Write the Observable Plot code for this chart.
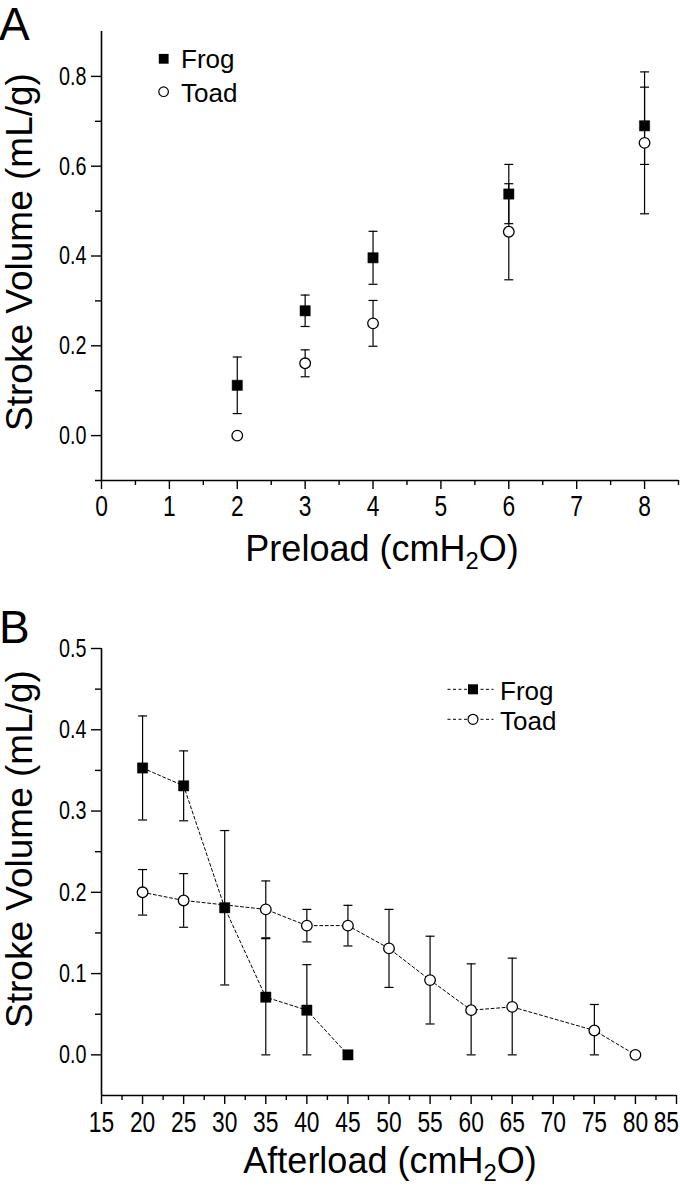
<!DOCTYPE html>
<html>
<head>
<meta charset="utf-8">
<script src="https://cdn.jsdelivr.net/npm/d3@7"></script>
<script src="https://cdn.jsdelivr.net/npm/@observablehq/plot@0.6"></script>
<style>
  body { margin: 0; background: #fff; }
  #chart { width: 680px; }
  #chart svg { display: block; }
</style>
</head>
<body>
<div id="chart"></div>
<script>
// ---------- Panel A: Preload ----------
const preload = [2, 3, 4, 6, 8];
const frogPreSV = [0.112, 0.278, 0.396, 0.538, 0.690];
const frogPreErr = [0.063, 0.035, 0.059, 0.066, 0.086];
const toadPreSV = [0.000, 0.161, 0.250, 0.454, 0.652];
const toadPreErr = [0.000, 0.030, 0.051, 0.107, 0.158];
const xTicksA = [0, 1, 2, 3, 4, 5, 6, 7, 8];
const xMinorA = [0.5, 1.5, 2.5, 3.5, 4.5, 5.5, 6.5, 7.5, 8.5];
const yTicksA = [0.0, 0.2, 0.4, 0.6, 0.8];
const yMinorA = [0.1, 0.3, 0.5, 0.7];

// ---------- Panel B: Afterload ----------
const frogAfterload = [20, 25, 30, 35, 40, 45];
const frogAfterSV = [0.353, 0.331, 0.181, 0.071, 0.055, 0.000];
const frogAfterErr = [0.064, 0.043, 0.095, 0.072, 0.056, 0.000];
const toadAfterload = [20, 25, 35, 40, 45, 50, 55, 60, 65, 75, 80];
const toadAfterSV = [0.200, 0.190, 0.179, 0.159, 0.159, 0.131, 0.092, 0.055, 0.059, 0.030, 0.000];
const toadAfterErr = [0.028, 0.033, 0.035, 0.020, 0.025, 0.048, 0.054, 0.057, 0.060, 0.032, 0.000];
const xTicksB = [15, 20, 25, 30, 35, 40, 45, 50, 55, 60, 65, 70, 75, 80, 85];
const xMinorB = [17.5, 22.5, 27.5, 32.5, 37.5, 42.5, 47.5, 52.5, 57.5, 62.5, 67.5, 72.5, 77.5, 82.5];
const yTicksB = [0.0, 0.1, 0.2, 0.3, 0.4, 0.5];
const yMinorB = [0.05, 0.15, 0.25, 0.35, 0.45];

const seriesNames = ["Frog", "Toad"];
const yTitle = "Stroke Volume (mL/g)";

// ---------- helpers ----------
const fontFamily = "'Liberation Sans', Arial, Helvetica, sans-serif";
function rows(xs, ys, errs) {
  return xs.map((x, i) => ({
    x, y: ys[i], err: errs[i],
    lo: Math.max(0, ys[i] - errs[i]), hi: ys[i] + errs[i]
  }));
}
const capSymbol = { draw(ctx) { ctx.moveTo(-4.5, 0); ctx.lineTo(4.5, 0); } };
function errorMarks(data) {
  const d = data.filter(r => r.err > 0);
  return [
    Plot.ruleX(d, { x: "x", y1: "lo", y2: "hi", stroke: "black", strokeWidth: 1.2 }),
    Plot.dot(d, { x: "x", y: "hi", symbol: capSymbol, stroke: "black", strokeWidth: 1.2, fill: "none" }),
    Plot.dot(d, { x: "x", y: "lo", symbol: capSymbol, stroke: "black", strokeWidth: 1.2, fill: "none" })
  ];
}
const frogDot = (d) => Plot.dot(d, { x: "x", y: "y", symbol: "square", r: 5.8, fill: "black", stroke: "black", strokeWidth: 0.5 });
const toadDot = (d) => Plot.dot(d, { x: "x", y: "y", symbol: "circle", r: 5.3, fill: "white", stroke: "black", strokeWidth: 1.3 });
const noLabel = () => "";

// narrow (condensed) look of the original tick labels
function condenseTicks(svg, k) {
  d3.select(svg).selectAll('g[aria-label$="tick label"] text').each(function () {
    const t = this.getAttribute("transform") || "";
    this.setAttribute("transform", `${t} scale(${k},1)`);
  });
}
// keep tick labels inside the page width (as in the original, where "85" sits flush right)
function keepInside(svg, maxX) {
  d3.select(svg).selectAll('g[aria-label$="tick label"] text').each(function () {
    const r = this.getBoundingClientRect();
    const s = svg.getBoundingClientRect();
    const over = (r.right - s.left) - maxX;
    if (over > 0) {
      const t = this.getAttribute("transform") || "";
      this.setAttribute("transform", `translate(${-over},0) ${t}`);
    }
  });
}

function addText(svg, txt, x, y, size, opts = {}) {
  const t = d3.select(svg).append("text")
    .attr("x", x).attr("y", y)
    .attr("font-size", size)
    .attr("font-family", fontFamily)
    .attr("fill", "black")
    .attr("text-anchor", opts.anchor || "start");
  if (opts.rotate) t.attr("transform", `rotate(-90 ${x} ${y})`);
  if (opts.sub) {
    t.append("tspan").text(txt[0]);
    t.append("tspan").text(opts.sub).attr("font-size", size * 0.66).attr("dy", size * 0.22);
    t.append("tspan").text(txt[1]).attr("dy", -size * 0.22);
  } else {
    t.text(txt);
  }
  return t;
}

// ---------- Panel A ----------
const frogA = rows(preload, frogPreSV, frogPreErr);
const toadA = rows(preload, toadPreSV, toadPreErr);

const svgA = Plot.plot({
  width: 680, height: 590,
  marginTop: 31, marginBottom: 110, marginLeft: 101, marginRight: 2,
  style: { fontFamily, color: "black", background: "white", overflow: "visible" },
  x: { domain: [0, 8.5], label: null },
  y: { domain: [-0.1, 0.9], label: null },
  marks: [
    Plot.ruleY([-0.1], { stroke: "black", strokeWidth: 1.6, insetLeft: -6 }),
    Plot.ruleX([0], { stroke: "black", strokeWidth: 1.6 }),
    Plot.axisX(xMinorA, { tickSize: 5, strokeWidth: 1.4, tickFormat: noLabel, label: null }),
    Plot.axisX(xTicksA, { tickSize: 9, tickPadding: 5, fontSize: 30, strokeWidth: 1.4, label: null }),
    Plot.axisY(yMinorA, { tickSize: 6, strokeWidth: 1.4, tickFormat: noLabel, label: null }),
    Plot.axisY(yTicksA, { tickSize: 10, tickPadding: 5, fontSize: 26, strokeWidth: 1.4, tickFormat: d3.format(".1f"), label: null }),
    ...errorMarks(toadA),
    ...errorMarks(frogA),
    toadDot(toadA),
    frogDot(frogA)
  ]
});
condenseTicks(svgA, 0.76);
addText(svgA, "A", -1, 40, 46);
addText(svgA, yTitle, 32, 252, 37, { anchor: "middle", rotate: true });
addText(svgA, ["Preload (cmH", "O)"], 382, 561, 36, { anchor: "middle", sub: "2" });
// legend A
{
  const g = d3.select(svgA).append("g");
  g.append("rect").attr("x", 158.8).attr("y", 53.9).attr("width", 9.8).attr("height", 9.8).attr("fill", "black");
  g.append("circle").attr("cx", 163.6).attr("cy", 91.7).attr("r", 4.8).attr("fill", "white").attr("stroke", "black").attr("stroke-width", 1.2);
  addText(svgA, seriesNames[0], 181, 68, 26);
  addText(svgA, seriesNames[1], 181, 101.5, 26);
}

// ---------- Panel B ----------
const frogB = rows(frogAfterload, frogAfterSV, frogAfterErr);
const toadB = rows(toadAfterload, toadAfterSV, toadAfterErr);

const svgB = Plot.plot({
  width: 680, height: 604,
  marginTop: 58, marginBottom: 99, marginLeft: 101, marginRight: 4,
  style: { fontFamily, color: "black", background: "white", overflow: "visible" },
  x: { domain: [15, 85], label: null },
  y: { domain: [-0.05, 0.5], label: null },
  marks: [
    Plot.ruleY([-0.05], { stroke: "black", strokeWidth: 1.6 }),
    Plot.ruleX([15], { stroke: "black", strokeWidth: 1.6 }),
    Plot.axisX(xMinorB, { tickSize: 5, strokeWidth: 1.4, tickFormat: noLabel, label: null }),
    Plot.axisX(xTicksB, { tickSize: 9, tickPadding: 6, fontSize: 30, strokeWidth: 1.4, label: null }),
    Plot.axisY(yMinorB, { tickSize: 6, strokeWidth: 1.4, tickFormat: noLabel, label: null }),
    Plot.axisY(yTicksB, { tickSize: 10, tickPadding: 5, fontSize: 26, strokeWidth: 1.4, tickFormat: d3.format(".1f"), label: null }),
    ...errorMarks(toadB),
    ...errorMarks(frogB),
    Plot.line(toadB, { x: "x", y: "y", stroke: "black", strokeWidth: 1, strokeDasharray: "3,2.5" }),
    Plot.line(frogB, { x: "x", y: "y", stroke: "black", strokeWidth: 1, strokeDasharray: "3,2.5" }),
    toadDot(toadB),
    frogDot(frogB)
  ]
});
condenseTicks(svgB, 0.76);
addText(svgB, "B", -1, 53, 46);
addText(svgB, yTitle, 32, 259, 37, { anchor: "middle", rotate: true });
addText(svgB, ["Afterload (cmH", "O)"], 390, 583, 36, { anchor: "middle", sub: "2" });
// legend B
{
  const g = d3.select(svgB).append("g");
  [[99.3, "sq"], [129.3, "ci"]].forEach(([y, k]) => {
    g.append("line").attr("x1", 447.5).attr("x2", 493.5).attr("y1", y).attr("y2", y)
      .attr("stroke", "black").attr("stroke-width", 1).attr("stroke-dasharray", "3,2.5");
    if (k === "sq") g.append("rect").attr("x", 468).attr("y", y - 5).attr("width", 10).attr("height", 10).attr("fill", "black");
    else g.append("circle").attr("cx", 473).attr("cy", y).attr("r", 5).attr("fill", "white").attr("stroke", "black").attr("stroke-width", 1.2);
  });
  addText(svgB, seriesNames[0], 500, 109.5, 26);
  addText(svgB, seriesNames[1], 500, 139.5, 26);
}

const chart = document.getElementById("chart");
chart.appendChild(svgA);
chart.appendChild(svgB);
keepInside(svgA, 679);
keepInside(svgB, 679);
</script>
</body>
</html>
